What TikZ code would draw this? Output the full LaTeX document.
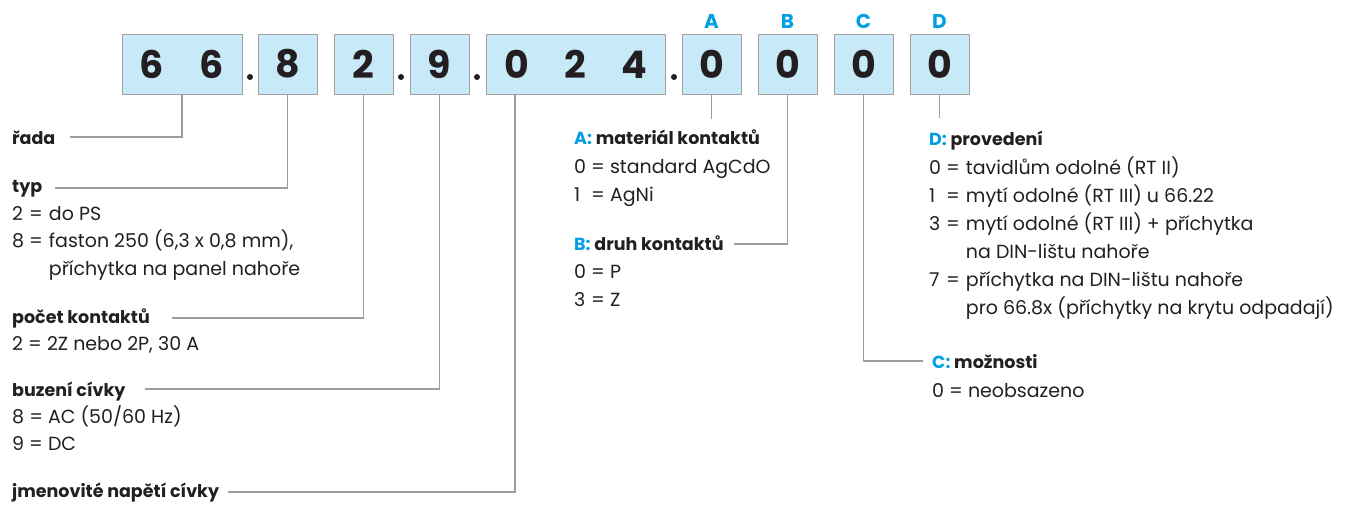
\documentclass[tikz,border=0pt]{standalone}
\usepackage{fontspec}
\setmainfont{Poppins}
\definecolor{boxfill}{HTML}{C8E9F8}
\definecolor{boxline}{HTML}{A0A0A0}
\definecolor{connc}{HTML}{9D9D9D}
\definecolor{ink}{HTML}{231F20}
\definecolor{cyanA}{HTML}{00A0E3}
\newcommand{\dg}[1]{\makebox[59pt]{#1}}
\newcommand{\ca}[1]{\textcolor{cyanA}{#1}}
\newcommand{\nm}[1]{\rlap{#1}\phantom{0}}
\begin{document}
\begin{tikzpicture}[x=1pt,y=-1pt,
  digitbox/.style={draw=boxline, fill=boxfill, line width=1pt, minimum height=60pt, minimum width=59pt, inner sep=0pt, font=\fontsize{38}{38}\selectfont\bfseries, text=ink},
  letter/.style={font=\fontsize{20}{20}\selectfont\bfseries, text=cyanA, inner sep=0pt},
  conn/.style={draw=connc, line width=1.1pt},
  head/.style={anchor=base west, inner sep=0pt, font=\fontsize{17.5}{28}\selectfont\bfseries, text=ink},
  body/.style={anchor=base west, inner sep=0pt, font=\fontsize{19}{27.5}\selectfont, text=ink},
  bodyr/.style={body, font=\fontsize{19}{28}\selectfont},
  sep/.style={fill=ink, circle, inner sep=0pt, minimum size=6pt}
]
\useasboundingbox (0,0) rectangle (1355,507);
% boxes
\node[digitbox, minimum width=120pt] (b66) at (182,64) {\makebox[60pt]{6}\makebox[60pt]{6}};
\node[digitbox] (b8) at (287.5,64) {8};
\node[digitbox] (b2) at (363.5,64) {2};
\node[digitbox] (b9) at (439.5,64) {9};
\node[digitbox, minimum width=179pt] (b024) at (575.5,64) {\dg{0}\dg{2}\dg{4}};
\node[digitbox] (bA) at (711.5,64) {0};
\node[digitbox] (bB) at (787.5,64) {0};
\node[digitbox] (bC) at (863.5,64) {0};
\node[digitbox] (bD) at (939.5,64) {0};
% dots
\node[sep] (d1) at (250,77) {};
\node[sep] (d2) at (401,77) {};
\node[sep] (d3) at (477,77) {};
\node[sep] (d4) at (674,77) {};
% letters
\node[letter] (lA) at (711.5,21) {A};
\node[letter] (lB) at (787.5,21) {B};
\node[letter] (lC) at (863.5,21) {C};
\node[letter] (lD) at (939.5,21) {D};
% left texts
\node[head] (rada) at (12,144) {řada};
\node[head] (typ) at (12,192) {typ};
\node[body] (typB) at (12,220) {\begin{tabular}[t]{@{}l@{\hspace{6pt}}l@{}}\nm{2} = & do PS\\ \nm{8} = & faston 250 (6,3 x 0,8 mm),\\ & příchytka na panel nahoře\end{tabular}};
\node[head] (pocet) at (12,323) {počet kontaktů};
\node[body] (pocetB) at (12,350) {2 = 2Z nebo 2P, 30 A};
\node[head] (buz) at (12,396) {buzení cívky};
\node[body] (buzB) at (12,423) {\begin{tabular}[t]{@{}l@{}}8 = AC (50/60 Hz)\\ 9 = DC\end{tabular}};
\node[head] (jmen) at (12,497) {jmenovité napětí cívky};
% middle texts
\node[head] (hA) at (574,144) {\ca{A:} materiál kontaktů};
\node[bodyr] (bodyA) at (574,173) {\begin{tabular}[t]{@{}l@{}}\nm{0} = standard AgCdO\\ \nm{1} = AgNi\end{tabular}};
\node[head] (hB) at (574,250) {\ca{B:} druh kontaktů};
\node[bodyr] (bodyB) at (574,278) {\begin{tabular}[t]{@{}l@{}}\nm{0} = P\\ \nm{3} = Z\end{tabular}};
% right texts
\node[head] (hD) at (929,145) {\ca{D:} provedení};
\node[bodyr] (bodyD) at (929,174) {\begin{tabular}[t]{@{}l@{\hspace{6pt}}l@{}}\nm{0} = & tavidlům odolné (RT II)\\ \nm{1} = & mytí odolné (RT III) u 66.22\\ \nm{3} = & mytí odolné (RT III) + příchytka\\ & na DIN-lištu nahoře\\ \nm{7} = & příchytka na DIN-lištu nahoře\\ & pro 66.8x (příchytky na krytu odpadají)\end{tabular}};
\node[head] (hC) at (932,368) {\ca{C:} možnosti};
\node[bodyr] (bodyC) at (932,397) {0 = neobsazeno};
% connectors
\draw[conn] (b66.south) |- ([xshift=14pt,yshift=7pt]rada.base east);
\draw[conn] (b8.south) |- ([xshift=13pt,yshift=4pt]typ.base east);
\draw[conn] (b2.south) |- ([xshift=22pt,yshift=5pt]pocet.base east);
\draw[conn] (b9.south) |- ([xshift=19pt,yshift=7pt]buz.base east);
\draw[conn] ([xshift=29.5pt]b024.south west) |- ([xshift=9pt,yshift=5pt]jmen.base east);
\draw[conn] (bA.south) -- ++(0,24);
\draw[conn] (bB.south) |- ([xshift=10pt,yshift=6pt]hB.base east);
\draw[conn] (bC.south) |- ([xshift=-9pt,yshift=7pt]hC.base west);
\draw[conn] (bD.south) -- ++(0,23);
\end{tikzpicture}
\end{document}
